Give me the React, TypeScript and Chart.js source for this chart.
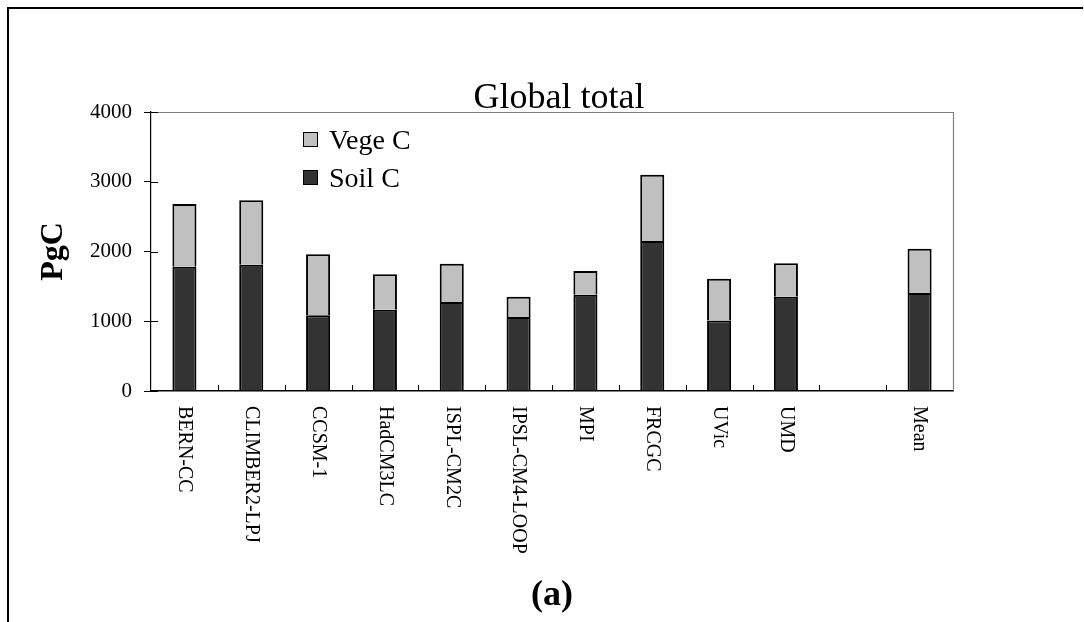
import React, { useEffect, useRef } from 'react';
import { Chart, registerables } from 'chart.js';

Chart.register(...registerables);

const categories = ['BERN-CC', 'CLIMBER2-LPJ', 'CCSM-1', 'HadCM3LC', 'ISPL-CM2C', 'IPSL-CM4-LOOP', 'MPI', 'FRCGC', 'UVic', 'UMD', '', 'Mean'];
const soilC = [1780, 1810, 1085, 1165, 1275, 1060, 1380, 2150, 1010, 1350, null, 1405];
const vegeC = [900, 925, 875, 510, 550, 290, 340, 950, 600, 480, null, 635];
const yTicks = [0, 1000, 2000, 3000, 4000];
const chartTitle = 'Global total';
const yTitle = 'PgC';
const panelLabel = '(a)';

const SERIF = '"Liberation Serif", "Times New Roman", serif';

const decor = {
  id: 'decor',
  afterDraw(chart: any) {
    const { ctx, chartArea: a, scales } = chart;
    const xs = scales.x;
    const ys = scales.y;
    ctx.save();
    // gray top and right frame of plot area
    ctx.strokeStyle = '#808080';
    ctx.lineWidth = 1.2;
    ctx.beginPath();
    ctx.moveTo(a.left, a.top + 0.5);
    ctx.lineTo(a.right + 0.5, a.top + 0.5);
    ctx.lineTo(a.right + 0.5, a.bottom);
    ctx.stroke();

    // inner y ticks (cross ticks)
    ctx.strokeStyle = '#000';
    ctx.lineWidth = 1;
    yTicks.forEach((v) => {
      const py = Math.round(ys.getPixelForValue(v)) + 0.5;
      ctx.beginPath();
      ctx.moveTo(a.left, py);
      ctx.lineTo(a.left + 7, py);
      ctx.stroke();
    });

    // inner x ticks at category boundaries
    for (let i = 1; i < categories.length; i++) {
      const px = Math.round((xs.getPixelForValue(i - 1) + xs.getPixelForValue(i)) / 2) + 0.5;
      ctx.beginPath();
      ctx.moveTo(px, a.bottom);
      ctx.lineTo(px, a.bottom - 6);
      ctx.stroke();
    }

    // x labels rotated clockwise
    ctx.fillStyle = '#000';
    ctx.font = '20px ' + SERIF;
    ctx.textAlign = 'left';
    ctx.textBaseline = 'middle';
    categories.forEach((c, i) => {
      if (!c) return;
      const px = xs.getPixelForValue(i);
      ctx.save();
      ctx.translate(px, a.bottom + 15);
      ctx.rotate(Math.PI / 2);
      ctx.fillText(c, 0, 0);
      ctx.restore();
    });

    // title
    ctx.font = '36px ' + SERIF;
    ctx.textAlign = 'center';
    ctx.textBaseline = 'alphabetic';
    ctx.fillText(chartTitle, (a.left + a.right) / 2 + 7, a.top - 4);

    // panel label
    ctx.font = 'bold 36px ' + SERIF;
    ctx.fillText(panelLabel, (a.left + a.right) / 2, 605);

    // legend (reverse order)
    const items = [...chart.data.datasets].reverse();
    items.forEach((ds: any, i: number) => {
      const cy = a.top + 27.5 + i * 38;
      const lx = a.left + 152;
      ctx.fillStyle = ds.backgroundColor;
      ctx.fillRect(lx, cy - 7.5, 15, 15);
      ctx.strokeStyle = '#000';
      ctx.lineWidth = 1;
      ctx.strokeRect(lx + 0.5, cy - 7, 14, 14);
      ctx.fillStyle = '#000';
      ctx.font = '28px ' + SERIF;
      ctx.textAlign = 'left';
      ctx.textBaseline = 'alphabetic';
      ctx.fillText(ds.label, lx + 26, cy + 9);
    });
    ctx.restore();
  },
};

export default function App() {
  const ref = useRef<HTMLCanvasElement | null>(null);

  useEffect(() => {
    if (!ref.current) return;
    const chart = new Chart(ref.current, {
      type: 'bar',
      data: {
        labels: categories,
        datasets: [
          {
            label: 'Soil C',
            data: soilC as any,
            backgroundColor: '#333333',
            borderColor: '#000000',
            borderWidth: 2,
            barPercentage: 0.36,
            categoryPercentage: 1,
          },
          {
            label: 'Vege C',
            data: vegeC as any,
            backgroundColor: '#c0c0c0',
            borderColor: '#000000',
            borderWidth: 2,
            barPercentage: 0.36,
            categoryPercentage: 1,
          },
        ],
      },
      options: {
        responsive: false,
        animation: false,
        layout: { padding: { left: 0, top: 112, right: 131, bottom: 0 } },
        plugins: {
          legend: { display: false },
          title: { display: false },
          tooltip: { enabled: false },
        },
        scales: {
          x: {
            stacked: true,
            grid: { display: false },
            border: { display: true, color: '#000', width: 1.5 },
            ticks: { display: false },
            afterFit: (s: any) => {
              s.height = 231;
            },
          },
          y: {
            stacked: true,
            min: 0,
            max: 4000,
            afterBuildTicks: (s: any) => {
              s.ticks = yTicks.map((v) => ({ value: v }));
            },
            grid: { display: true, drawOnChartArea: false, drawTicks: true, tickLength: 7, color: '#000' },
            border: { display: true, color: '#000', width: 1.2 },
            ticks: {
              color: '#000',
              padding: 12,
              font: { family: SERIF, size: 21 },
              callback: (v: any) => String(v),
            },
            title: {
              display: true,
              text: yTitle,
              color: '#000',
              font: { family: SERIF, size: 32, weight: 'bold' },
              padding: { top: 35, bottom: 0 },
            },
            afterFit: (s: any) => {
              s.width = 151;
            },
          },
        },
      },
      plugins: [decor],
    });
    return () => chart.destroy();
  }, []);

  return (
    <div style={{ position: 'absolute', left: 0, top: 0, width: 1084, height: 622, background: '#fff', overflow: 'hidden' }}>
      <div
        style={{
          position: 'absolute',
          left: 7,
          top: 7,
          width: 1076,
          height: 620,
          borderLeft: '2px solid #000',
          borderTop: '2px solid #000',
          boxSizing: 'border-box',
        }}
      />
      <canvas ref={ref} width={1084} height={622} style={{ position: 'absolute', left: 0, top: 0, display: 'block' }} />
    </div>
  );
}
